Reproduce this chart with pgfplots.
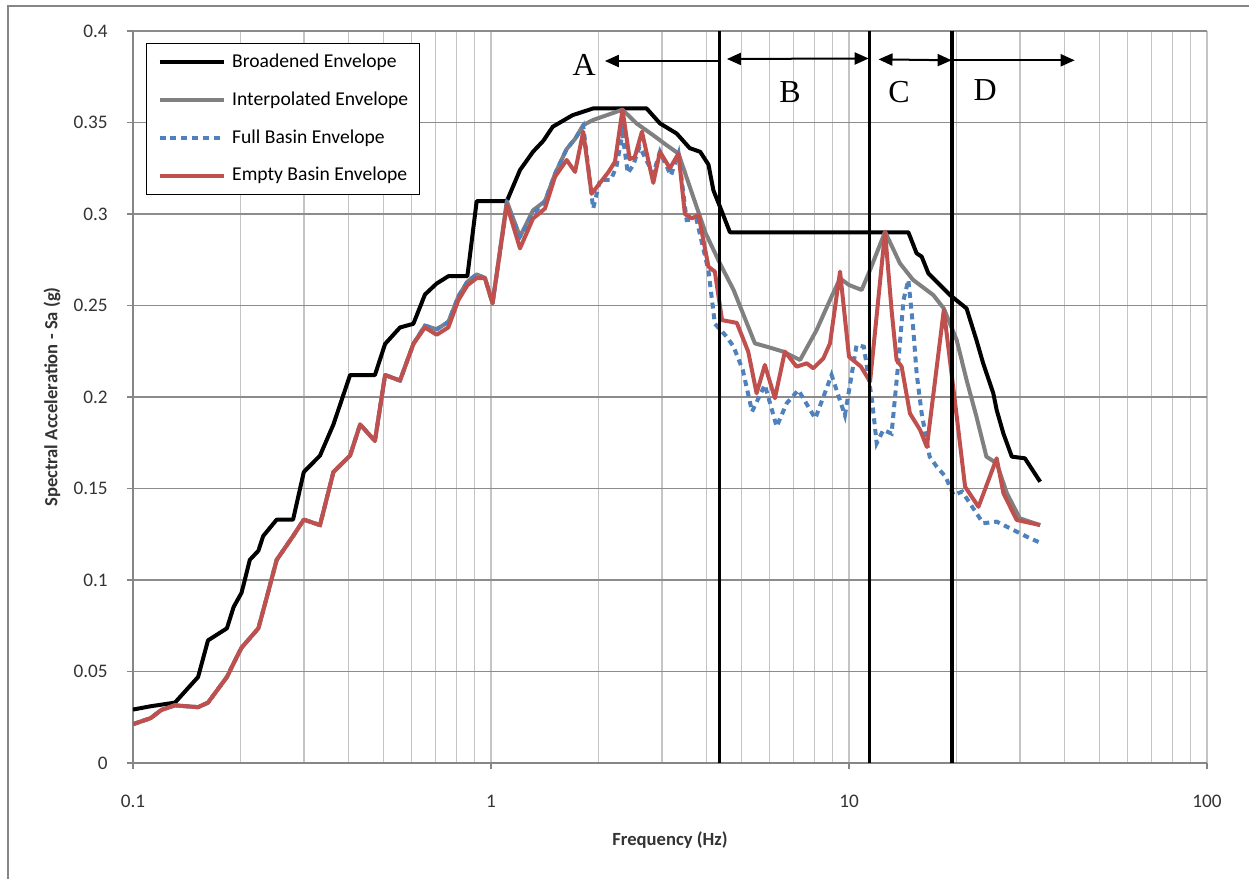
\documentclass[border=0pt]{standalone}
\usepackage{fontspec}
\setmainfont{Carlito}
\newfontfamily\timesfont{Liberation Serif}
\usepackage{pgfplots}
\usepackage{pgfplotstable}
\pgfplotsset{compat=1.18}
\usetikzlibrary{arrows.meta}
\definecolor{axgray}{HTML}{868686}
\definecolor{gridmaj}{HTML}{8C8C8C}
\definecolor{gridmin}{HTML}{C4C4C4}
\definecolor{intgray}{HTML}{808080}
\definecolor{fullblue}{HTML}{4F81BD}
\definecolor{emptyred}{HTML}{C0504D}
\definecolor{ticktext}{HTML}{333333}

\pgfplotstableread{
f v
0.100 0.0292
0.112 0.031
0.131 0.033
0.152 0.047
0.162 0.067
0.183 0.0736
0.191 0.0852
0.201 0.093
0.212 0.111
0.224 0.116
0.231 0.124
0.252 0.133
0.280 0.133
0.300 0.159
0.333 0.168
0.363 0.185
0.404 0.212
0.474 0.212
0.506 0.229
0.557 0.238
0.607 0.240
0.654 0.256
0.705 0.262
0.760 0.266
0.859 0.266
0.912 0.307
1.107 0.307
1.205 0.324
1.31 0.334
1.40 0.340
1.488 0.3477
1.69 0.354
1.93 0.3577
2.72 0.3577
2.965 0.3495
3.30 0.344
3.59 0.336
3.84 0.334
4.05 0.327
4.18 0.313
4.36 0.304
4.65 0.2900
14.65 0.2900
15.45 0.2785
15.96 0.2767
16.66 0.2676
17.58 0.263
19.15 0.2557
21.3 0.2484
22.7 0.2311
23.7 0.2184
25.3 0.202
25.85 0.1929
27.0 0.180
28.5 0.1674
31.0 0.1665
34.2 0.1537
}\broad

\pgfplotstableread{
f v
0.100 0.0212
0.112 0.0245
0.120 0.029
0.131 0.0315
0.152 0.0305
0.162 0.033
0.183 0.047
0.195 0.058
0.201 0.063
0.224 0.0736
0.236 0.090
0.252 0.111
0.280 0.124
0.300 0.133
0.333 0.130
0.363 0.159
0.404 0.168
0.431 0.185
0.474 0.176
0.506 0.212
0.557 0.209
0.607 0.229
0.654 0.239
0.705 0.237
0.760 0.241
0.811 0.255
0.859 0.263
0.912 0.267
0.962 0.265
1.01 0.2512
1.107 0.307
1.205 0.2876
1.31 0.302
1.415 0.307
1.51 0.322
1.627 0.3355
1.717 0.341
1.81 0.3486
1.93 0.3514
2.33 0.357
2.55 0.3495
2.84 0.343
3.09 0.3377
3.34 0.333
3.67 0.3095
3.98 0.2894
4.36 0.273
4.76 0.2585
5.46 0.2293
5.89 0.2275
6.55 0.2248
7.30 0.2202
8.12 0.2366
8.85 0.253
9.44 0.2648
10.0 0.2612
10.85 0.2585
11.45 0.2694
12.61 0.2903
13.88 0.273
15.1 0.264
17.2 0.2557
18.4 0.2484
20.0 0.231
21.3 0.2093
22.7 0.1893
24.2 0.1674
25.85 0.1638
27.6 0.1475
30.0 0.1337
34.2 0.130
}\interp

\pgfplotstableread{
f v
0.100 0.0212
0.112 0.0245
0.120 0.029
0.131 0.0315
0.152 0.0305
0.162 0.033
0.183 0.047
0.195 0.058
0.201 0.063
0.224 0.0736
0.236 0.090
0.252 0.111
0.280 0.124
0.300 0.133
0.333 0.130
0.363 0.159
0.404 0.168
0.431 0.185
0.474 0.176
0.506 0.212
0.557 0.209
0.607 0.229
0.654 0.239
0.705 0.237
0.760 0.241
0.811 0.255
0.859 0.263
0.912 0.267
0.962 0.265
1.01 0.2512
1.107 0.305
1.205 0.2876
1.31 0.300
1.415 0.307
1.51 0.322
1.627 0.3355
1.717 0.341
1.81 0.348
1.93 0.303
2.016 0.3186
2.16 0.3186
2.24 0.3257
2.33 0.344
2.41 0.3223
2.50 0.327
2.60 0.3368
2.84 0.322
2.965 0.334
3.18 0.321
3.34 0.333
3.52 0.2967
3.75 0.297
4.05 0.269
4.22 0.240
4.55 0.233
4.76 0.2275
5.05 0.2148
5.36 0.192
5.82 0.2066
6.28 0.1838
6.70 0.1966
7.22 0.2038
8.05 0.1883
8.94 0.212
9.74 0.190
10.5 0.2284
11.0 0.2275
11.6 0.198
11.95 0.1747
12.47 0.182
13.15 0.180
13.7 0.2166
14.2 0.253
14.65 0.264
15.1 0.2384
15.45 0.213
15.96 0.191
16.8 0.1674
17.6 0.1618
18.6 0.1565
19.6 0.1464
20.7 0.1483
22.7 0.1365
23.7 0.131
25.85 0.1319
28.8 0.1273
32.0 0.1228
34.6 0.120
}\full

\pgfplotstableread{
f v
0.100 0.0212
0.112 0.0245
0.120 0.029
0.131 0.0315
0.152 0.0305
0.162 0.033
0.183 0.047
0.195 0.058
0.201 0.063
0.224 0.0736
0.236 0.090
0.252 0.111
0.280 0.124
0.300 0.133
0.333 0.130
0.363 0.159
0.404 0.168
0.431 0.185
0.474 0.176
0.506 0.212
0.557 0.209
0.607 0.229
0.654 0.238
0.705 0.234
0.760 0.238
0.811 0.253
0.859 0.261
0.912 0.265
0.962 0.265
1.01 0.2512
1.107 0.305
1.205 0.2812
1.31 0.2975
1.415 0.303
1.51 0.3204
1.627 0.3295
1.717 0.323
1.81 0.345
1.91 0.311
2.016 0.317
2.13 0.323
2.22 0.3286
2.33 0.357
2.44 0.330
2.52 0.331
2.64 0.345
2.84 0.317
2.965 0.334
3.16 0.325
3.34 0.333
3.48 0.300
3.64 0.2976
3.80 0.2995
4.05 0.2712
4.22 0.2685
4.42 0.242
4.86 0.2405
5.23 0.2248
5.52 0.202
5.82 0.2175
6.21 0.1993
6.62 0.2248
7.14 0.2166
7.62 0.2184
7.95 0.2157
8.48 0.2211
8.85 0.2293
9.44 0.2685
10.0 0.222
10.8 0.2166
11.45 0.2084
12.61 0.2903
13.15 0.2475
13.58 0.2202
14.03 0.2166
14.8 0.191
15.8 0.182
16.5 0.1727
18.4 0.2475
20.0 0.1893
21.1 0.151
23.0 0.140
25.85 0.1665
27.0 0.1474
29.4 0.1328
34.2 0.130
}\empty

\begin{document}
\begin{tikzpicture}[x=1pt,y=1pt]
\useasboundingbox (0,0) rectangle (624.5,439.5);
\draw[color=axgray, line width=0.9pt] (4,-5) -- (4,436.5) -- (630,436.5);
\begin{axis}[
  at={(66.5pt,58pt)}, anchor=south west,
  scale only axis, width=537pt, height=366pt,
  xmode=log, xmin=0.1, xmax=100, ymin=0, ymax=0.4,
  axis x line*=bottom, axis y line*=left,
  axis line style={color=axgray, line width=0.8pt},
  xtick={0.1,1,10,100}, xticklabels={0.1,1,10,100},
  ytick={0,0.05,0.1,0.15,0.2,0.25,0.3,0.35,0.4},
  yticklabels={0,0.05,0.1,0.15,0.2,0.25,0.3,0.35,0.4},
  tick align=outside, major tick length=3pt, minor tick length=0pt,
  tick style={color=axgray, line width=0.6pt},
  xmajorgrids, xminorgrids, ymajorgrids,
  x grid style={color=gridmin, line width=0.7pt},
  y grid style={color=gridmaj, line width=0.7pt},
  ticklabel style={font=\fontsize{9.6}{10}\selectfont, text=ticktext},
  yticklabel style={anchor=east, inner sep=0pt, xshift=-9.5pt},
  xticklabel style={anchor=north, inner sep=0pt, yshift=-13pt},
  xlabel={Frequency (Hz)},
  ylabel={Spectral Acceleration - Sa (g)},
  every axis x label/.style={at={(axis description cs:0.5,-0.1052)}, anchor=center, font=\bfseries\fontsize{9.3}{10}\selectfont, text=ticktext},
  every axis y label/.style={at={(axis description cs:-0.0754,0.5)}, anchor=center, rotate=90, font=\bfseries\fontsize{9.3}{10}\selectfont, text=ticktext},
  legend cell align=left,
  legend image code/.code={\draw[#1] (0pt,0pt) -- (32pt,0pt);},
  legend style={at={(axis description cs:0.0121,0.9836)}, anchor=north west,
    draw=black, line width=0.6pt, fill=white,
    font=\fontsize{9.8}{11}\selectfont,
    inner xsep=5.5pt, inner ysep=4.9pt,
    nodes={inner sep=0pt, text height=7pt, text depth=2pt},
    row sep=9.9pt, column sep=3.3pt},
]
\addplot[black, line width=2pt, line join=round] table[x=f,y=v] {\broad};
\addlegendentry{Broadened Envelope}
\addplot[intgray, line width=2pt, line join=round] table[x=f,y=v] {\interp};
\addlegendentry{Interpolated Envelope}
\addplot[fullblue, line width=2pt, dash pattern=on 3pt off 2.4pt] table[x=f,y=v] {\full};
\addlegendentry{Full Basin Envelope}
\addplot[emptyred, line width=2pt, line join=round] table[x=f,y=v] {\empty};
\addlegendentry{Empty Basin Envelope}

\addplot[black, line width=1.6pt, forget plot] coordinates {(4.34,0) (4.34,0.4)};
\addplot[black, line width=1.6pt, forget plot] coordinates {(11.4,0) (11.4,0.4)};
\addplot[black, line width=1.6pt, forget plot] coordinates {(19.4,0) (19.4,0.4)};

\draw[black, line width=1pt, -{Triangle[length=7pt,width=6pt]}] (axis cs:4.34,0.3836) -- (axis cs:2.08,0.3836);
\draw[black, line width=1pt, {Triangle[length=7pt,width=6pt]}-{Triangle[length=7pt,width=6pt]}] (axis cs:4.56,0.3847) -- (axis cs:11.35,0.3850);
\draw[black, line width=1pt, {Triangle[length=7pt,width=6pt]}-{Triangle[length=7pt,width=6pt]}] (axis cs:12.09,0.3845) -- (axis cs:19.35,0.3840);
\draw[black, line width=1pt, -{Triangle[length=7pt,width=6pt]}] (axis cs:19.4,0.3840) -- (axis cs:42.7,0.3840);

\node[font=\timesfont\fontsize{16}{16}\selectfont] at (axis cs:1.82,0.3814) {A};
\node[font=\timesfont\fontsize{16}{16}\selectfont] at (axis cs:6.84,0.3667) {B};
\node[font=\timesfont\fontsize{16}{16}\selectfont] at (axis cs:13.8,0.3667) {C};
\node[font=\timesfont\fontsize{16}{16}\selectfont] at (axis cs:24.0,0.3678) {D};
\end{axis}
\end{tikzpicture}
\end{document}
